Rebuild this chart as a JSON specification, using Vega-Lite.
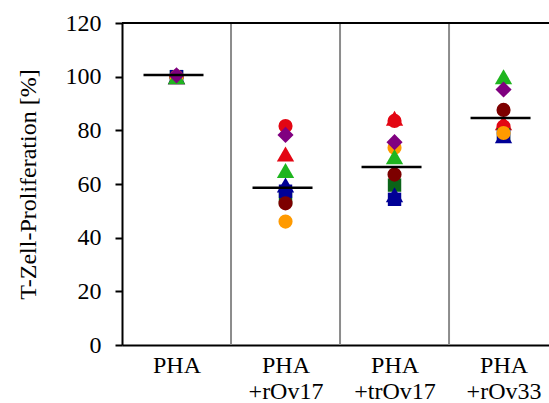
{
  "$schema": "https://vega.github.io/schema/vega-lite/v6.json",
  "width": 427,
  "height": 322,
  "autosize": "none",
  "padding": {"left": 122, "top": 23, "right": 0, "bottom": 58},
  "background": "white",
  "config": {"view": {"stroke": null}, "font": "Liberation Serif", "axis": {"labelFont": "Liberation Serif", "titleFont": "Liberation Serif"}},
  "datasets": {
    "points": [
      {"group": 1, "donor": "D1", "value": 100},
      {"group": 2, "donor": "D1", "value": 81.6},
      {"group": 3, "donor": "D1", "value": 83.5},
      {"group": 4, "donor": "D1", "value": 81.4},
      {"group": 1, "donor": "D2", "value": 100},
      {"group": 2, "donor": "D2", "value": 71.2},
      {"group": 3, "donor": "D2", "value": 84.5},
      {"group": 4, "donor": "D2", "value": 82.8},
      {"group": 1, "donor": "D3", "value": 100},
      {"group": 2, "donor": "D3", "value": 54.5},
      {"group": 3, "donor": "D3", "value": 59.6},
      {"group": 4, "donor": "D3", "value": 78.3},
      {"group": 1, "donor": "D4", "value": 100},
      {"group": 2, "donor": "D4", "value": 59.6},
      {"group": 3, "donor": "D4", "value": 56.0},
      {"group": 4, "donor": "D4", "value": 78.0},
      {"group": 1, "donor": "D5", "value": 100},
      {"group": 2, "donor": "D5", "value": 57.3},
      {"group": 3, "donor": "D5", "value": 54.3},
      {"group": 4, "donor": "D5", "value": 77.8},
      {"group": 1, "donor": "D6", "value": 100},
      {"group": 2, "donor": "D6", "value": 52.8},
      {"group": 3, "donor": "D6", "value": 63.5},
      {"group": 4, "donor": "D6", "value": 87.6},
      {"group": 1, "donor": "D7", "value": 100},
      {"group": 2, "donor": "D7", "value": 46.0},
      {"group": 3, "donor": "D7", "value": 73.5},
      {"group": 4, "donor": "D7", "value": 79.0},
      {"group": 1, "donor": "D8", "value": 100},
      {"group": 2, "donor": "D8", "value": 65.0},
      {"group": 3, "donor": "D8", "value": 70.2},
      {"group": 4, "donor": "D8", "value": 100.0},
      {"group": 1, "donor": "D9", "value": 100.5},
      {"group": 2, "donor": "D9", "value": 78.3},
      {"group": 3, "donor": "D9", "value": 75.6},
      {"group": 4, "donor": "D9", "value": 95.2}
    ],
    "means": [
      {"group": 1, "mean": 100.6},
      {"group": 2, "mean": 58.6},
      {"group": 3, "mean": 66.3},
      {"group": 4, "mean": 84.6}
    ],
    "separators": [
      {"pos": 1.5},
      {"pos": 2.5},
      {"pos": 3.5}
    ]
  },
  "layer": [
    {
      "data": {"name": "separators"},
      "mark": {"type": "rule", "color": "#8c8c8c", "strokeWidth": 2},
      "encoding": {
        "x": {"field": "pos", "type": "quantitative"}
      }
    },
    {
      "data": {"values": [{"top": 120}]},
      "mark": {"type": "rule", "color": "black", "strokeWidth": 2},
      "encoding": {
        "y": {"field": "top", "type": "quantitative"}
      }
    },
    {
      "data": {"name": "points"},
      "mark": {"type": "point", "filled": true, "opacity": 1, "strokeWidth": 0},
      "encoding": {
        "x": {
          "field": "group",
          "type": "quantitative",
          "scale": {"domain": [0.5, 4.417], "nice": false, "zero": false},
          "axis": {
            "values": [1, 2, 3, 4],
            "labelExpr": "datum.value == 1 ? 'PHA' : datum.value == 2 ? ['PHA', '+rOv17'] : datum.value == 3 ? ['PHA', '+trOv17'] : ['PHA', '+rOv33']",
            "ticks": false,
            "grid": false,
            "domainColor": "black",
            "domainWidth": 2,
            "labelFont": "Liberation Serif",
            "labelFontSize": 24,
            "labelColor": "black",
            "labelPadding": 8,
            "labelLineHeight": 26,
            "labelFlush": false,
            "labelOverlap": false,
            "title": null
          }
        },
        "y": {
          "field": "value",
          "type": "quantitative",
          "scale": {"domain": [0, 120], "nice": false},
          "axis": {
            "values": [0, 20, 40, 60, 80, 100, 120],
            "grid": false,
            "tickSize": 7,
            "tickWidth": 2,
            "tickColor": "black",
            "domainColor": "black",
            "domainWidth": 2,
            "labelFont": "Liberation Serif",
            "labelFontSize": 24,
            "labelColor": "black",
            "labelPadding": 14,
            "title": "T-Zell-Proliferation [%]",
            "titleFont": "Liberation Serif",
            "titleFontSize": 24,
            "titleFontWeight": "normal",
            "titleColor": "black",
            "titlePadding": 25
          }
        },
        "color": {
          "field": "donor",
          "type": "nominal",
          "scale": {
            "domain": ["D1", "D2", "D3", "D4", "D5", "D6", "D7", "D8", "D9"],
            "range": ["#e30613", "#e30613", "#0b6418", "#000096", "#000096", "#7d0000", "#ff9a00", "#1fb51f", "#800080"]
          },
          "legend": null
        },
        "shape": {
          "field": "donor",
          "type": "nominal",
          "scale": {
            "domain": ["D1", "D2", "D3", "D4", "D5", "D6", "D7", "D8", "D9"],
            "range": ["circle", "triangle-up", "square", "triangle-up", "square", "circle", "circle", "triangle-up", "diamond"]
          },
          "legend": null
        },
        "size": {
          "field": "donor",
          "type": "nominal",
          "scale": {
            "type": "ordinal",
            "domain": ["D1", "D2", "D3", "D4", "D5", "D6", "D7", "D8", "D9"],
            "range": [200, 300, 180, 300, 180, 200, 200, 300, 260]
          },
          "legend": null
        },
        "order": {"field": "donor", "type": "nominal"}
      }
    },
    {
      "data": {"name": "means"},
      "mark": {"type": "tick", "orient": "horizontal", "color": "black", "opacity": 1, "size": 60, "thickness": 2.5, "xOffset": -3},
      "encoding": {
        "x": {"field": "group", "type": "quantitative"},
        "y": {"field": "mean", "type": "quantitative"}
      }
    }
  ]
}
